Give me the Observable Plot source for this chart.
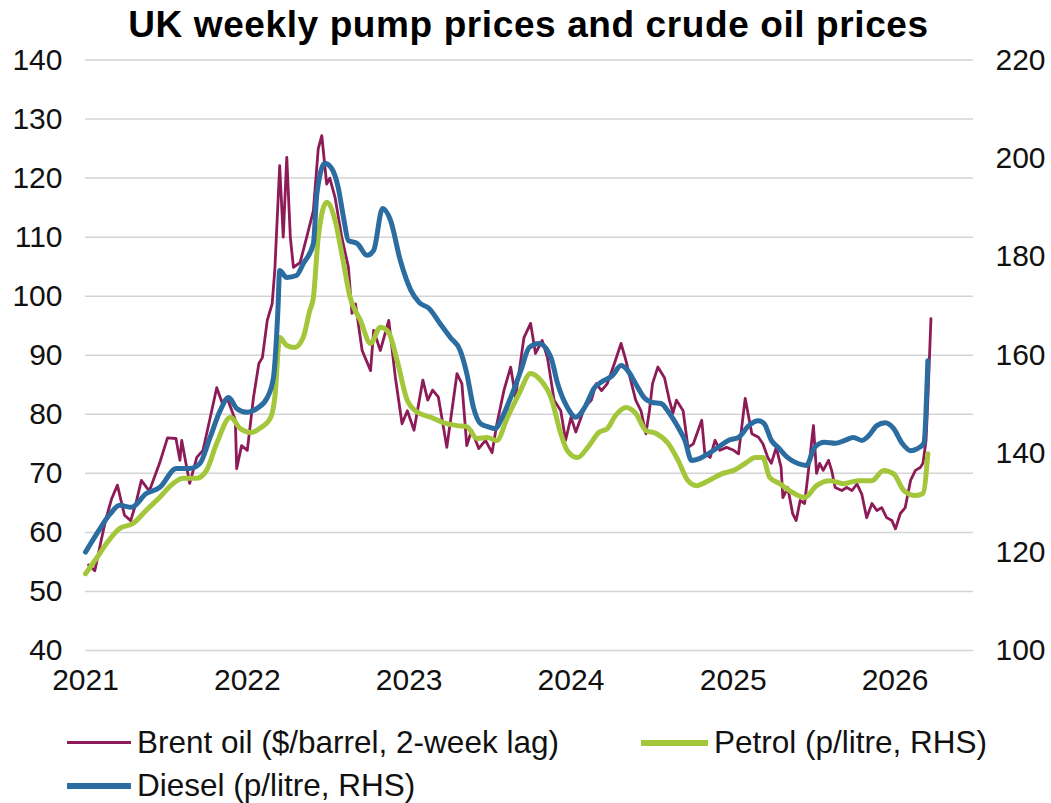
<!DOCTYPE html>
<html>
<head>
<meta charset="utf-8">
<script src="https://cdn.jsdelivr.net/npm/d3@7"></script>
<script src="https://cdn.jsdelivr.net/npm/@observablehq/plot@0.6"></script>
<style>
  html, body { margin: 0; padding: 0; background: #ffffff; }
  body { width: 1051px; height: 803px; overflow: hidden; font-family: "Liberation Sans", Arial, sans-serif; color: #111; }
  #title { height: 50px; line-height: 50px; text-align: center; font-weight: 700; font-size: 37px; letter-spacing: 0.6px; padding-left: 6px; color: #000; }
  #chart { height: 670px; }
  #chart svg { overflow: visible; }
  #legend { position: relative; height: 83px; font-size: 31.5px; color: #111; }
  .item { position: absolute; line-height: 36px; white-space: nowrap; }
  .sw { display: inline-block; vertical-align: middle; margin-right: 6px; position: relative; top: -2px; }
</style>
</head>
<body>
<div id="title">UK weekly pump prices and crude oil prices</div>
<div id="chart"></div>
<div id="legend"></div>
<script>
// Brent oil ($/barrel, 2-week lag) — left axis
const brent = [
["2021-01-08",54.5],["2021-01-22",53.5],["2021-02-05",58.5],["2021-02-15",62],["2021-03-01",65.7],["2021-03-14",68],
["2021-03-30",62.9],["2021-04-13",62],["2021-04-25",65],["2021-05-07",68.8],["2021-05-25",67],["2021-06-17",71.7],
["2021-07-05",76],["2021-07-24",75.9],["2021-08-02",72.2],["2021-08-06",75.6],["2021-08-24",68.3],["2021-09-09",72.7],
["2021-09-23",73.9],["2021-10-08",79],["2021-10-24",84.5],["2021-11-05",82],["2021-11-16",82.9],["2021-12-05",79],
["2021-12-08",70.8],["2021-12-19",74.7],["2022-01-01",73.9],["2022-01-15",82.9],["2022-01-27",88.6],["2022-02-04",89.6],
["2022-02-15",95.9],["2022-02-26",98.7],["2022-03-04",104.4],["2022-03-15",122.1],["2022-03-23",110],["2022-03-31",123.5],
["2022-04-08",110],["2022-04-15",104.9],["2022-04-30",105.7],["2022-05-15",110],["2022-05-30",114.5],["2022-06-10",125],
["2022-06-18",127.2],["2022-06-29",119],["2022-07-06",120],["2022-07-18",116.7],["2022-08-02",110],["2022-08-17",104.9],
["2022-08-25",97.1],["2022-09-02",98.7],["2022-09-17",90.8],["2022-10-06",87.4],["2022-10-13",94.2],["2022-10-28",90.8],
["2022-11-16",95.9],["2022-12-01",86.2],["2022-12-16",78.4],["2022-12-28",80.6],["2023-01-12",77.3],["2023-02-01",85.8],
["2023-02-12",82.4],["2023-02-23",84.1],["2023-03-08",82.9],["2023-03-27",74.4],["2023-04-19",86.9],["2023-04-30",85.2],
["2023-05-11",74.7],["2023-05-22",77.3],["2023-06-07",74.2],["2023-06-22",75.6],["2023-07-07",73.5],["2023-07-18",78.4],
["2023-08-03",84.1],["2023-08-18",88],["2023-08-29",82.9],["2023-09-17",93],["2023-10-02",95.4],["2023-10-13",90.3],
["2023-10-28",92.5],["2023-11-09",89.6],["2023-11-24",82.4],["2023-12-09",80.6],["2023-12-20",75.6],["2024-01-01",79.5],
["2024-01-12",77],["2024-02-01",81.2],["2024-02-16",82.4],["2024-02-27",85.2],["2024-03-10",84],["2024-03-23",85.2],
["2024-04-08",88.6],["2024-04-23",92],["2024-05-04",89.1],["2024-05-15",85.7],["2024-05-26",82.4],["2024-06-07",80.6],
["2024-06-18",76.7],["2024-06-26",80.6],["2024-07-03",85.2],["2024-07-15",88],["2024-07-30",86.2],["2024-08-10",82.4],
["2024-08-18",80.2],["2024-08-26",82.4],["2024-09-10",80.6],["2024-09-21",74.4],["2024-10-03",75],["2024-10-22",79],
["2024-10-29",73.3],["2024-11-10",72.7],["2024-11-21",75.6],["2024-12-02",73.9],["2024-12-17",74.4],["2025-01-02",73.9],
["2025-01-13",73.3],["2025-01-28",82.7],["2025-02-12",76.7],["2025-02-27",76.1],["2025-03-09",75],["2025-03-20",72.7],
["2025-03-28",71.7],["2025-04-08",74.4],["2025-04-19",71],["2025-04-23",65.9],["2025-05-04",67.6],["2025-05-15",63.2],
["2025-05-23",62],["2025-06-01",65.4],["2025-06-11",64.9],["2025-06-19",70],["2025-07-01",78.1],["2025-07-08",70],
["2025-07-15",71.7],["2025-07-23",70.5],["2025-08-04",72.2],["2025-08-11",70.5],["2025-08-19",67.6],["2025-09-03",67.1],
["2025-09-14",67.6],["2025-09-26",67.1],["2025-10-07",68.2],["2025-10-18",66.5],["2025-10-29",62.5],["2025-11-10",64.9],
["2025-11-21",63.7],["2025-12-02",64.2],["2025-12-13",62.5],["2025-12-25",62],["2026-01-02",60.6],["2026-01-13",63.2],
["2026-01-24",64.2],["2026-02-05",68.8],["2026-02-16",70.5],["2026-02-27",71],["2026-03-05",71.7],["2026-03-12",75.6],
["2026-03-16",82.4],["2026-03-23",96.2]
];

// Petrol (p/litre) — right axis
const petrol = [
["2021-01-01",115.6],["2021-01-27",118.9],["2021-02-22",122.3],["2021-03-19",124.8],["2021-04-18",125.8],["2021-05-18",128.5],
["2021-06-17",131.1],["2021-07-17",133.9],["2021-08-09",135],["2021-09-09",135],["2021-10-01",136.6],["2021-10-24",142.1],
["2021-11-24",147.4],["2021-12-16",145.1],["2022-01-08",144.3],["2022-02-01",145.3],["2022-02-23",147.4],["2022-03-04",151.4],
["2022-03-15",163.6],["2022-03-31",162],["2022-04-18",161.6],["2022-05-07",163.6],["2022-05-22",169.1],["2022-05-30",171.7],
["2022-06-10",184],["2022-06-29",191.1],["2022-07-18",187.4],["2022-08-02",180.7],["2022-08-21",171.7],["2022-09-13",167.1],
["2022-10-06",162.4],["2022-10-28",165.7],["2022-11-16",164.6],["2022-12-05",158.9],["2022-12-28",150.8],["2023-01-20",148.4],
["2023-02-19",147.4],["2023-03-19",146.3],["2023-04-19",145.7],["2023-05-11",145.5],["2023-06-03",143.1],["2023-06-26",143.3],
["2023-07-18",142.7],["2023-08-10",147.2],["2023-09-06",152.2],["2023-10-02",156.3],["2023-10-25",154.9],["2023-11-17",151.4],
["2023-12-09",144.1],["2023-12-24",140.6],["2024-01-16",139.2],["2024-02-08",141.3],["2024-03-04",144.3],["2024-03-23",145.1],
["2024-04-11",147.8],["2024-05-04",149.4],["2024-05-26",148.2],["2024-06-18",144.7],["2024-07-11",144.1],["2024-08-07",142.1],
["2024-08-30",138.6],["2024-09-21",134.5],["2024-10-10",133.5],["2024-11-06",134.5],["2024-12-06",135.9],["2025-01-02",136.6],
["2025-01-28",138],["2025-02-20",139.2],["2025-03-09",139.2],["2025-03-24",135.2],["2025-04-16",133.9],["2025-05-08",132.5],
["2025-06-11",131.1],["2025-07-08",133.5],["2025-08-07",134.5],["2025-09-07",133.9],["2025-10-10",134.5],["2025-11-10",134.5],
["2025-12-06",136.6],["2025-12-29",135.9],["2026-01-21",132.5],["2026-02-16",131.5],["2026-03-05",131.9],["2026-03-16",140]
];

// Diesel (p/litre) — right axis
const diesel = [
["2021-01-01",120],["2021-01-27",123.8],["2021-02-26",127.8],["2021-03-19",129.5],["2021-04-15",129.1],["2021-05-18",131.9],
["2021-06-17",133.1],["2021-07-25",137],["2021-08-24",137],["2021-09-16",138],["2021-10-09",143.3],["2021-11-01",148.8],
["2021-11-20",151.4],["2021-12-08",149.2],["2022-01-01",148.4],["2022-01-23",149.2],["2022-02-15",151.4],["2022-03-01",155.5],
["2022-03-11",169.1],["2022-03-15",177.2],["2022-03-31",175.8],["2022-04-22",176.2],["2022-05-07",178.6],["2022-05-30",182.7],
["2022-06-07",192.9],["2022-06-25",199],["2022-07-10",198],["2022-07-25",194.1],["2022-08-06",188],["2022-08-17",183.3],
["2022-09-06",182.7],["2022-09-28",180.3],["2022-10-13",181.3],["2022-11-02",189.8],["2022-11-20",187.4],["2022-12-12",179.3],
["2023-01-05",173.2],["2023-01-24",170.7],["2023-02-15",169.5],["2023-03-12",166.4],["2023-04-04",163.6],["2023-04-26",161],
["2023-05-11",156.3],["2023-05-26",149.4],["2023-06-11",146.1],["2023-06-27",145.5],["2023-07-14",145.1],["2023-07-30",147.4],
["2023-08-18",151.4],["2023-09-10",156.9],["2023-09-29",161.6],["2023-10-21",162.4],["2023-11-17",159.5],["2023-12-02",154.2],
["2023-12-24",149.4],["2024-01-12",147.4],["2024-02-01",149.4],["2024-02-23",153.4],["2024-03-09",154.5],["2024-04-04",155.9],
["2024-04-23",157.9],["2024-05-08",156.9],["2024-05-26",154.2],["2024-06-14",151.4],["2024-07-03",150.4],["2024-07-22",150.2],
["2024-08-10",148.2],["2024-08-30",145.3],["2024-09-14",142.7],["2024-09-29",138.6],["2024-10-17",139],["2024-11-06",140],
["2024-11-28",141.3],["2024-12-21",142.7],["2025-01-13",143.3],["2025-02-05",145.7],["2025-02-27",146.7],["2025-03-12",146.1],
["2025-03-28",142.7],["2025-04-12",141.3],["2025-05-04",139.2],["2025-05-27",138],["2025-06-15",137.6],["2025-07-04",141.3],
["2025-07-26",142.3],["2025-08-19",142.1],["2025-09-10",142.7],["2025-09-29",143.3],["2025-10-18",142.7],["2025-11-03",143.7],
["2025-11-21",145.7],["2025-12-10",146.3],["2025-12-29",145.1],["2026-01-17",142.1],["2026-02-05",140.6],["2026-02-20",141],
["2026-03-07",142.1],["2026-03-16",158.9]
];

const years = [2021, 2022, 2023, 2024, 2025, 2026];
const leftTicks = [40, 50, 60, 70, 80, 90, 100, 110, 120, 130, 140];
const rightTicks = [100, 120, 140, 160, 180, 200, 220];

const colors = { brent: "#8c1b57", petrol: "#a3c63b", diesel: "#2b6ca1" };

// RHS (p/litre) 100..220 maps onto LHS ($/barrel) 40..140
const toLeft = r => 40 + (r - 100) / 1.2;
const toRight = l => 100 + (l - 40) * 1.2;

const parse = s => new Date(s + "T00:00:00Z");

const chart = Plot.plot({
  width: 1051,
  height: 670,
  marginTop: 9.5,
  marginBottom: 70,
  marginLeft: 85,
  marginRight: 78,
  style: { fontFamily: "'Liberation Sans', Arial, sans-serif", fontSize: "30px", color: "#111", background: "transparent", overflow: "visible" },
  x: { type: "utc", domain: [parse("2021-01-01"), parse("2026-06-27")] },
  y: { domain: [40, 140] },
  marks: [
    Plot.gridY(leftTicks, { stroke: "#d4d4d4", strokeOpacity: 1, strokeWidth: 1.5 }),
    Plot.axisY(leftTicks, { anchor: "left", tickSize: 0, tickPadding: 23, label: null, fill: "#111" }),
    Plot.axisY(rightTicks.map(toLeft), { anchor: "right", tickSize: 0, tickPadding: 22, label: null, fill: "#111", tickFormat: d => Math.round(toRight(d)) }),
    Plot.axisX(years.map(y => new Date(Date.UTC(y, 0, 1))), { anchor: "bottom", tickSize: 0, tickPadding: 18, label: null, fill: "#111", tickFormat: d => String(d.getUTCFullYear()) }),
    Plot.lineY(brent, { x: d => parse(d[0]), y: d => d[1], stroke: colors.brent, strokeWidth: 2.8, strokeLinejoin: "round" }),
    Plot.lineY(petrol, { x: d => parse(d[0]), y: d => toLeft(d[1]), stroke: colors.petrol, strokeWidth: 5, curve: "monotone-x" }),
    Plot.lineY(diesel, { x: d => parse(d[0]), y: d => toLeft(d[1]), stroke: colors.diesel, strokeWidth: 5, curve: "monotone-x" })
  ]
});
document.getElementById("chart").appendChild(chart);

const legendItems = [
  { label: "Brent oil ($/barrel, 2-week lag)", color: colors.brent, w: 64, h: 3, left: 67, top: 4 },
  { label: "Petrol (p/litre, RHS)", color: colors.petrol, w: 67, h: 6, left: 641, top: 4 },
  { label: "Diesel (p/litre, RHS)", color: colors.diesel, w: 64, h: 6, left: 67, top: 47 }
];
const legend = document.getElementById("legend");
for (const it of legendItems) {
  const el = document.createElement("div");
  el.className = "item";
  el.style.left = it.left + "px";
  el.style.top = it.top + "px";
  const sw = document.createElement("span");
  sw.className = "sw";
  sw.style.width = it.w + "px";
  sw.style.height = it.h + "px";
  sw.style.background = it.color;
  el.appendChild(sw);
  el.appendChild(document.createTextNode(it.label));
  legend.appendChild(el);
}
</script>
</body>
</html>
